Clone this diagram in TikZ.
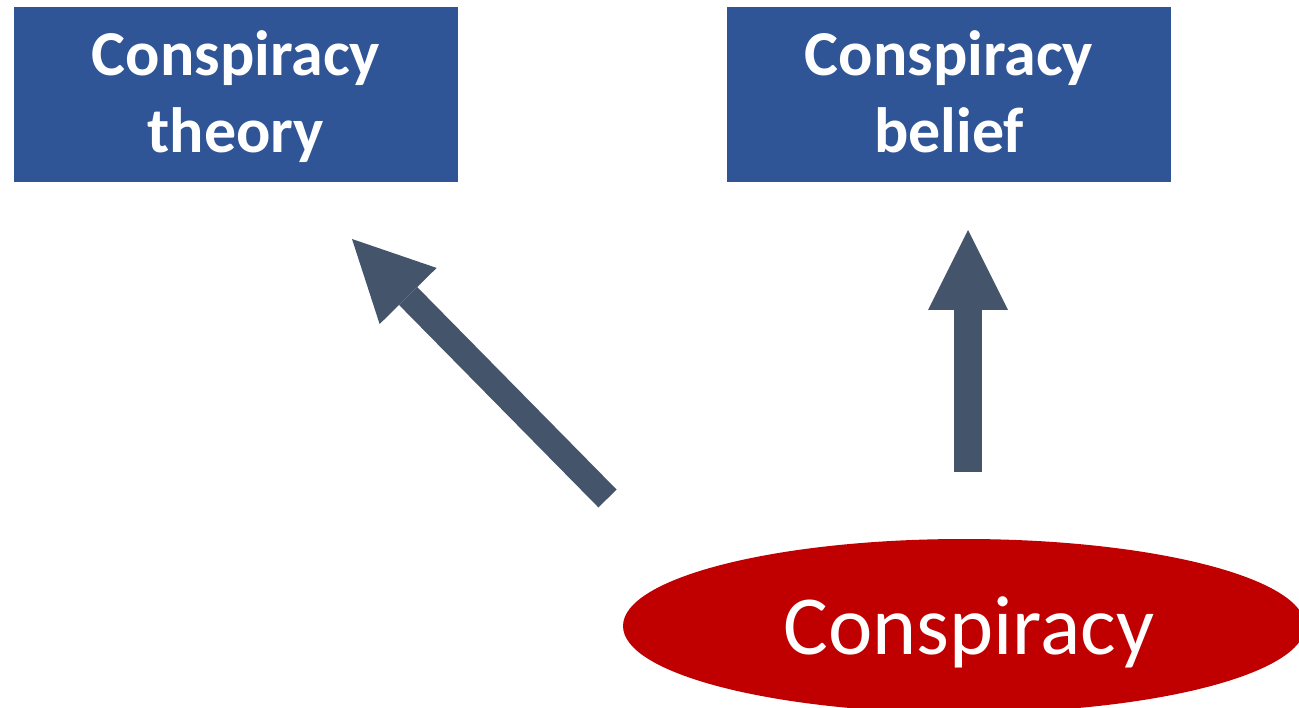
\documentclass[tikz,border=0pt]{standalone}
\usepackage{fontspec}
\setmainfont{Carlito}
\usetikzlibrary{shapes.geometric,arrows.meta}
\definecolor{boxblue}{HTML}{2F5597}
\definecolor{arrowgray}{HTML}{44546A}
\definecolor{ellred}{HTML}{C00000}
\tikzset{
  bluebox/.style={rectangle, fill=boxblue, draw=none, minimum width=444pt, minimum height=175pt, inner sep=0pt},
  boxtext/.style={text=white, align=center, font=\bfseries\fontsize{64}{77.5}\selectfont, inner sep=0pt},
  redell/.style={ellipse, fill=ellred, draw=none, minimum width=682pt, minimum height=174pt, inner sep=0pt},
  elltext/.style={text=white, font=\fontsize{84}{100}\selectfont, inner sep=0pt},
  blockarrow/.style={draw=arrowgray, line cap=butt, -{Triangle[length=80pt,width=80pt,line width=0pt]}}
}
\begin{document}
\begin{tikzpicture}[x=1pt,y=-1pt]
\useasboundingbox (0,0) rectangle (1299,708);
\clip (0,0) rectangle (1299,708);
\node[bluebox] (bl) at (236,94.5) {};
\node[bluebox] (br) at (949,94.5) {};
\node[boxtext, anchor=base] (tl) at (236,153) {Conspiracy\\theory};
\node[boxtext, anchor=base] (tr) at (949,153) {Conspiracy\\belief};
\node[redell] (c) at (964,626) {};
\node[elltext, anchor=base] (ct) at (969,654) {Conspiracy};
\coordinate (lt) at (607.5,498.5);
\coordinate (lh) at (352,239);
\coordinate (rt) at (968,472);
\coordinate (rh) at (968,230);
\draw[blockarrow, line width=25.5pt] (lt) -- (lh);
\draw[blockarrow, line width=27.5pt] (rt) -- (rh);
\end{tikzpicture}
\end{document}
